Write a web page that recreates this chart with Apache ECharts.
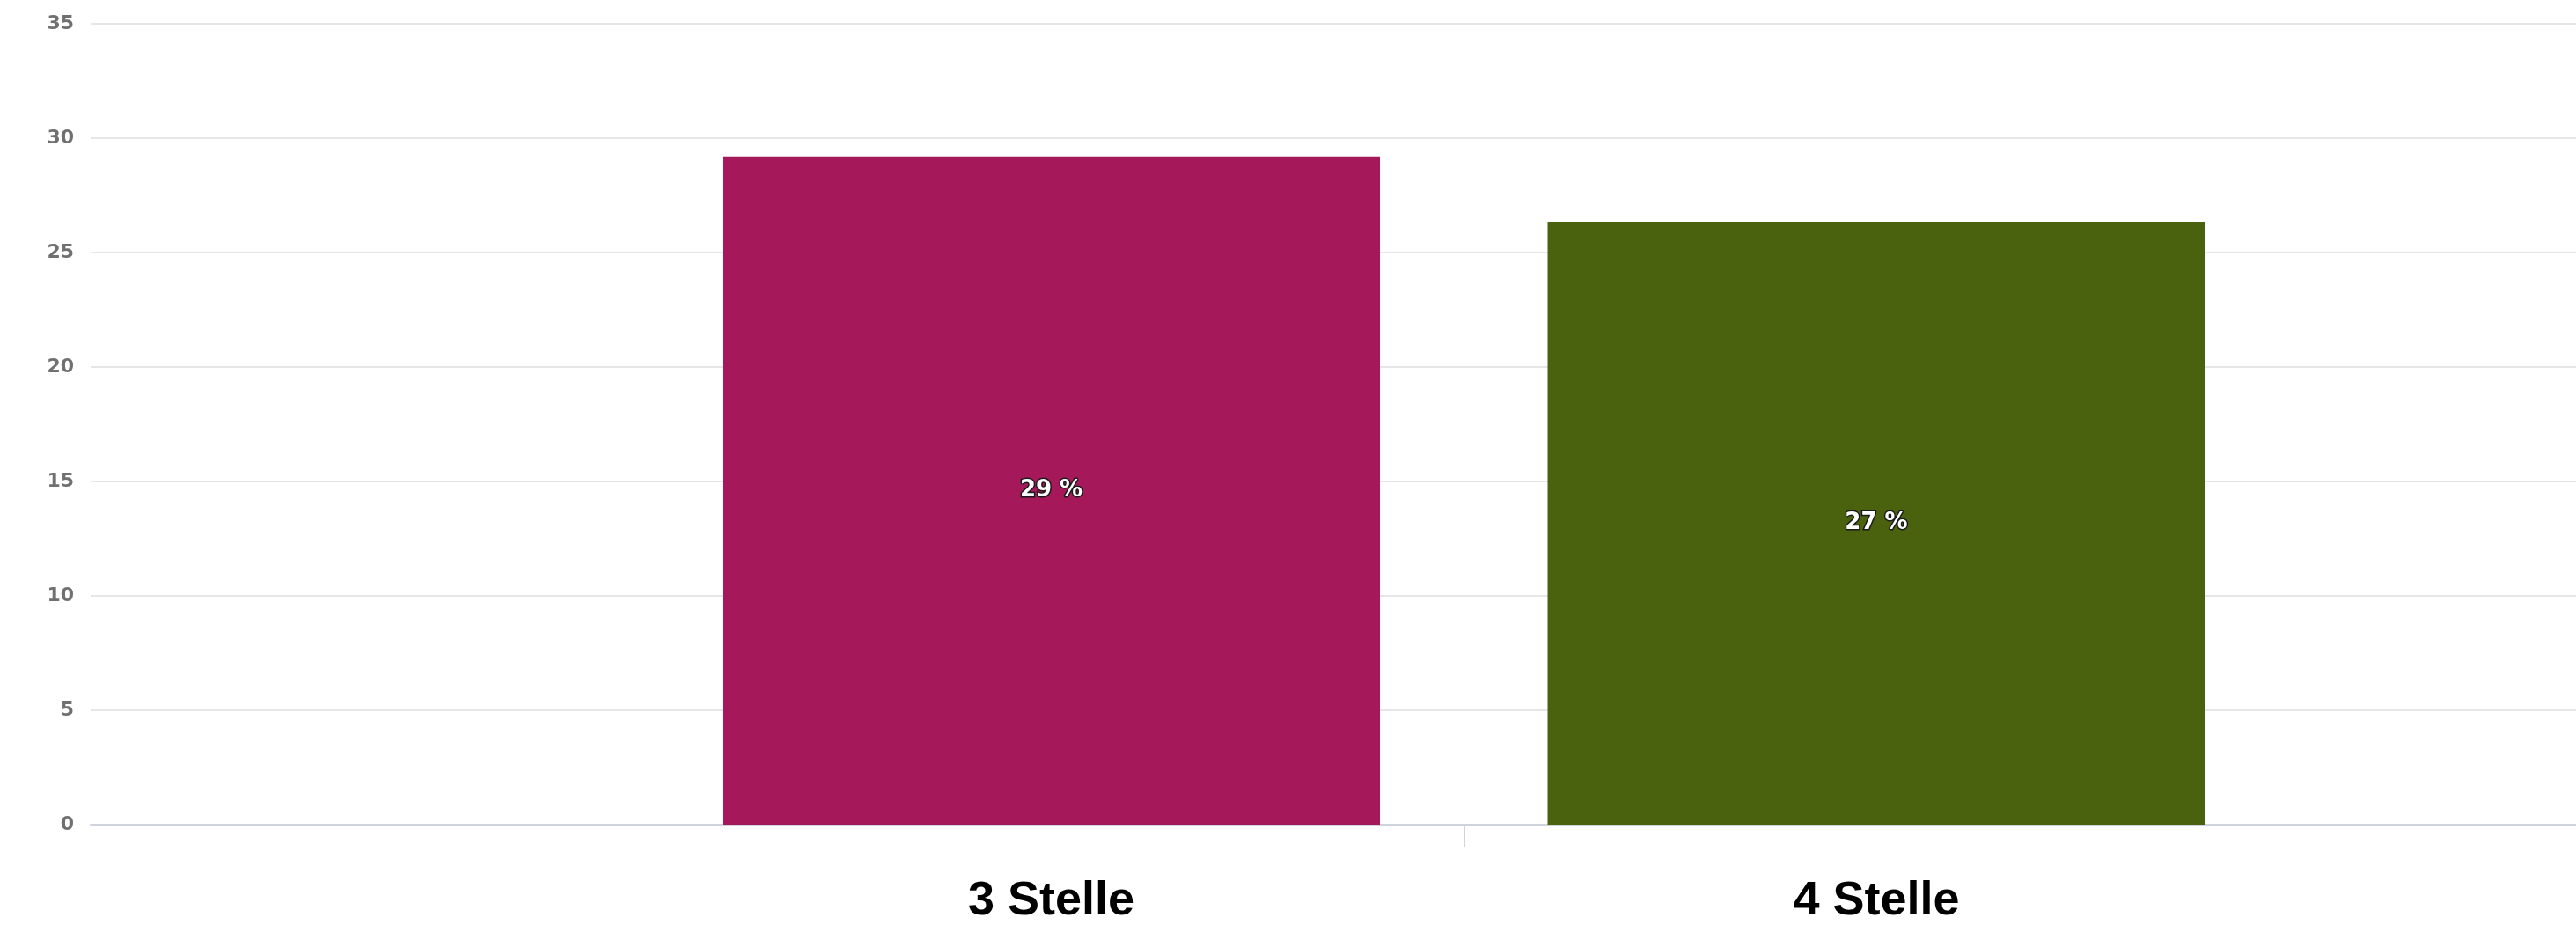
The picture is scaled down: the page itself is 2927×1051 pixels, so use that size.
<!DOCTYPE html>
<html>
<head>
<meta charset="utf-8">
<script src="https://cdn.jsdelivr.net/npm/echarts@6/dist/echarts.min.js"></script>
<style>
html,body{margin:0;padding:0;background:#fff;}
#chart{width:2927px;height:1051px;}
</style>
</head>
<body>
<div id="chart"></div>
<script>
const categories = ["3 Stelle", "4 Stelle"];
const values = [29.2, 26.35];
const labelValues = [29, 27];
const colors = ["#A5195B", "#4A610E"];
const yTicks = [0, 5, 10, 15, 20, 25, 30, 35];
const catPositions = [0, 1];

const chart = echarts.init(document.getElementById('chart'), null, {renderer: 'canvas'});
chart.setOption({
  backgroundColor: '#ffffff',
  animation: false,
  grid: {left: 103, right: 0, top: 27, bottom: 110, containLabel: false},
  xAxis: {
    type: 'value',
    min: -1.1643,
    max: 1.848,
    splitLine: {show: false},
    axisLine: {show: true, onZero: true, lineStyle: {color: '#cfd4dc', width: 2}},
    axisTick: {show: true, length: 25, customValues: [0.5], lineStyle: {color: '#cfd4dc', width: 2}},
    axisLabel: {
      show: true,
      customValues: catPositions,
      margin: 60,
      formatter: function (v) { return categories[Math.round(v)] || ''; },
      fontFamily: 'Liberation Sans, Arial, sans-serif',
      fontWeight: 'bold',
      fontSize: 54,
      color: '#000000'
    }
  },
  yAxis: {
    type: 'value',
    min: yTicks[0],
    max: yTicks[yTicks.length - 1],
    interval: 5,
    axisLine: {show: false},
    axisTick: {show: false},
    splitLine: {show: true, lineStyle: {color: '#e6e6e6', width: 2}},
    axisLabel: {
      margin: 19,
      fontFamily: 'DejaVu Sans, Verdana, sans-serif',
      fontWeight: 'bold',
      fontSize: 22,
      color: '#707070'
    }
  },
  series: [{
    type: 'bar',
    barWidth: 747,
    data: values.map(function (v, i) {
      return {value: [catPositions[i], v], itemStyle: {color: colors[i]}};
    }),
    label: {
      show: true,
      position: 'inside',
      formatter: function (p) { return labelValues[p.dataIndex] + ' %'; },
      fontFamily: 'DejaVu Sans, Verdana, sans-serif',
      fontWeight: 'bold',
      fontSize: 26,
      color: '#ffffff',
      textBorderColor: '#1a1a1a',
      textBorderWidth: 3
    }
  }]
});
</script>
</body>
</html>
